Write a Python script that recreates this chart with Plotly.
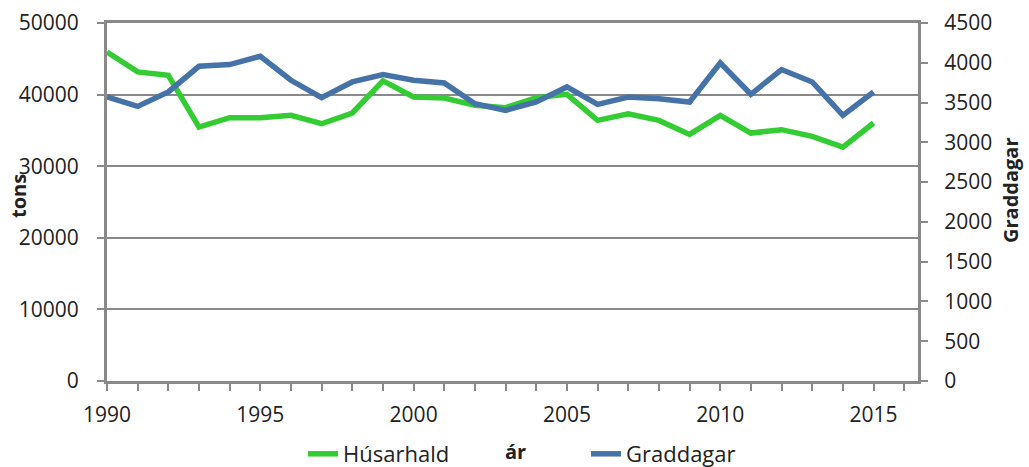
import plotly.graph_objects as go

years = list(range(1990, 2016))

husarhald = [45960, 43170, 42700, 35470, 36770, 36770, 37100, 35930, 37430, 41910,
             39670, 39530, 38500, 38170, 39580, 40040, 36400, 37330, 36400, 34440,
             37100, 34630, 35100, 34160, 32670, 36030]

graddagar = [3570, 3452, 3633, 3956, 3977, 4082, 3780, 3562, 3759, 3852,
             3780, 3746, 3486, 3402, 3507, 3696, 3478, 3570, 3549, 3507,
             3998, 3604, 3915, 3759, 3339, 3633]

GREEN = "#33CC33"
BLUE = "#4572A7"
GRAY = "#898989"
FONT = "Open Sans"

# plot area in pixels
L, R, T, B = 107, 111, 23, 86
W, H = 1029, 467
PW, PH = W - L - R, H - T - B

fig = go.Figure()
fig.add_trace(go.Scatter(x=years, y=husarhald, name="Húsarhald", mode="lines",
                         line=dict(color=GREEN, width=5.5)))
fig.add_trace(go.Scatter(x=years, y=graddagar, name="Graddagar", mode="lines",
                         line=dict(color=BLUE, width=5.5), yaxis="y2"))

fig.update_layout(
    width=W, height=H,
    margin=dict(l=L, r=R, t=T, b=B, autoexpand=False),
    plot_bgcolor="white", paper_bgcolor="white",
    font=dict(family=FONT, size=21, color="#222222"),
    showlegend=True,
    legend=dict(orientation="h", x=(303 - L) / PW, y=(H - B - 454) / PH,
                xanchor="left", yanchor="middle",
                entrywidth=238, entrywidthmode="pixels",
                font=dict(family=FONT, size=22), bgcolor="rgba(0,0,0,0)"),
    xaxis=dict(range=[1990, 2016.45], tickvals=[1990, 1995, 2000, 2005, 2010, 2015],
               showgrid=False, zeroline=False, automargin=False,
               showline=True, linecolor=GRAY, linewidth=3, mirror=True,
               ticks="outside", ticklen=7, tickwidth=2, tickcolor=GRAY,
               minor=dict(dtick=1, tick0=1990, ticks="outside", ticklen=7,
                          tickwidth=2, tickcolor=GRAY),
               ticklabelstandoff=6),
    yaxis=dict(range=[0, 50000], dtick=10000, tickformat="d", automargin=False,
               showgrid=True, gridcolor=GRAY, gridwidth=2,
               zeroline=False, showline=True, linecolor=GRAY, linewidth=3, mirror=True,
               ticks="outside", ticklen=7, tickwidth=2, tickcolor=GRAY,
               ticklabelstandoff=14),
    yaxis2=dict(range=[0, 4500], dtick=500, tickformat="d", overlaying="y", side="right",
                automargin=False, showgrid=False, zeroline=False,
                showline=True, linecolor=GRAY, linewidth=3,
                ticks="outside", ticklen=7, tickwidth=2, tickcolor=GRAY,
                ticklabelstandoff=12),
)


def px_annotation(text, x, y, angle=0):
    fig.add_annotation(text=text, x=(x - L) / PW, y=(H - B - y) / PH,
                       xref="paper", yref="paper", showarrow=False,
                       xanchor="center", yanchor="middle",
                       textangle=angle, font=dict(size=20))


px_annotation("<b>tons</b>", 18, 196, -90)
px_annotation("<b>Graddagar</b>", 1010, 190, -90)
px_annotation("<b>ár</b>", 515, 451)

# the page body has a default margin; drop it so the figure fills the window
fig.write_html("out.html", config={"displayModeBar": False},
               post_script="document.body.style.margin='0';document.body.style.overflow='hidden';")
